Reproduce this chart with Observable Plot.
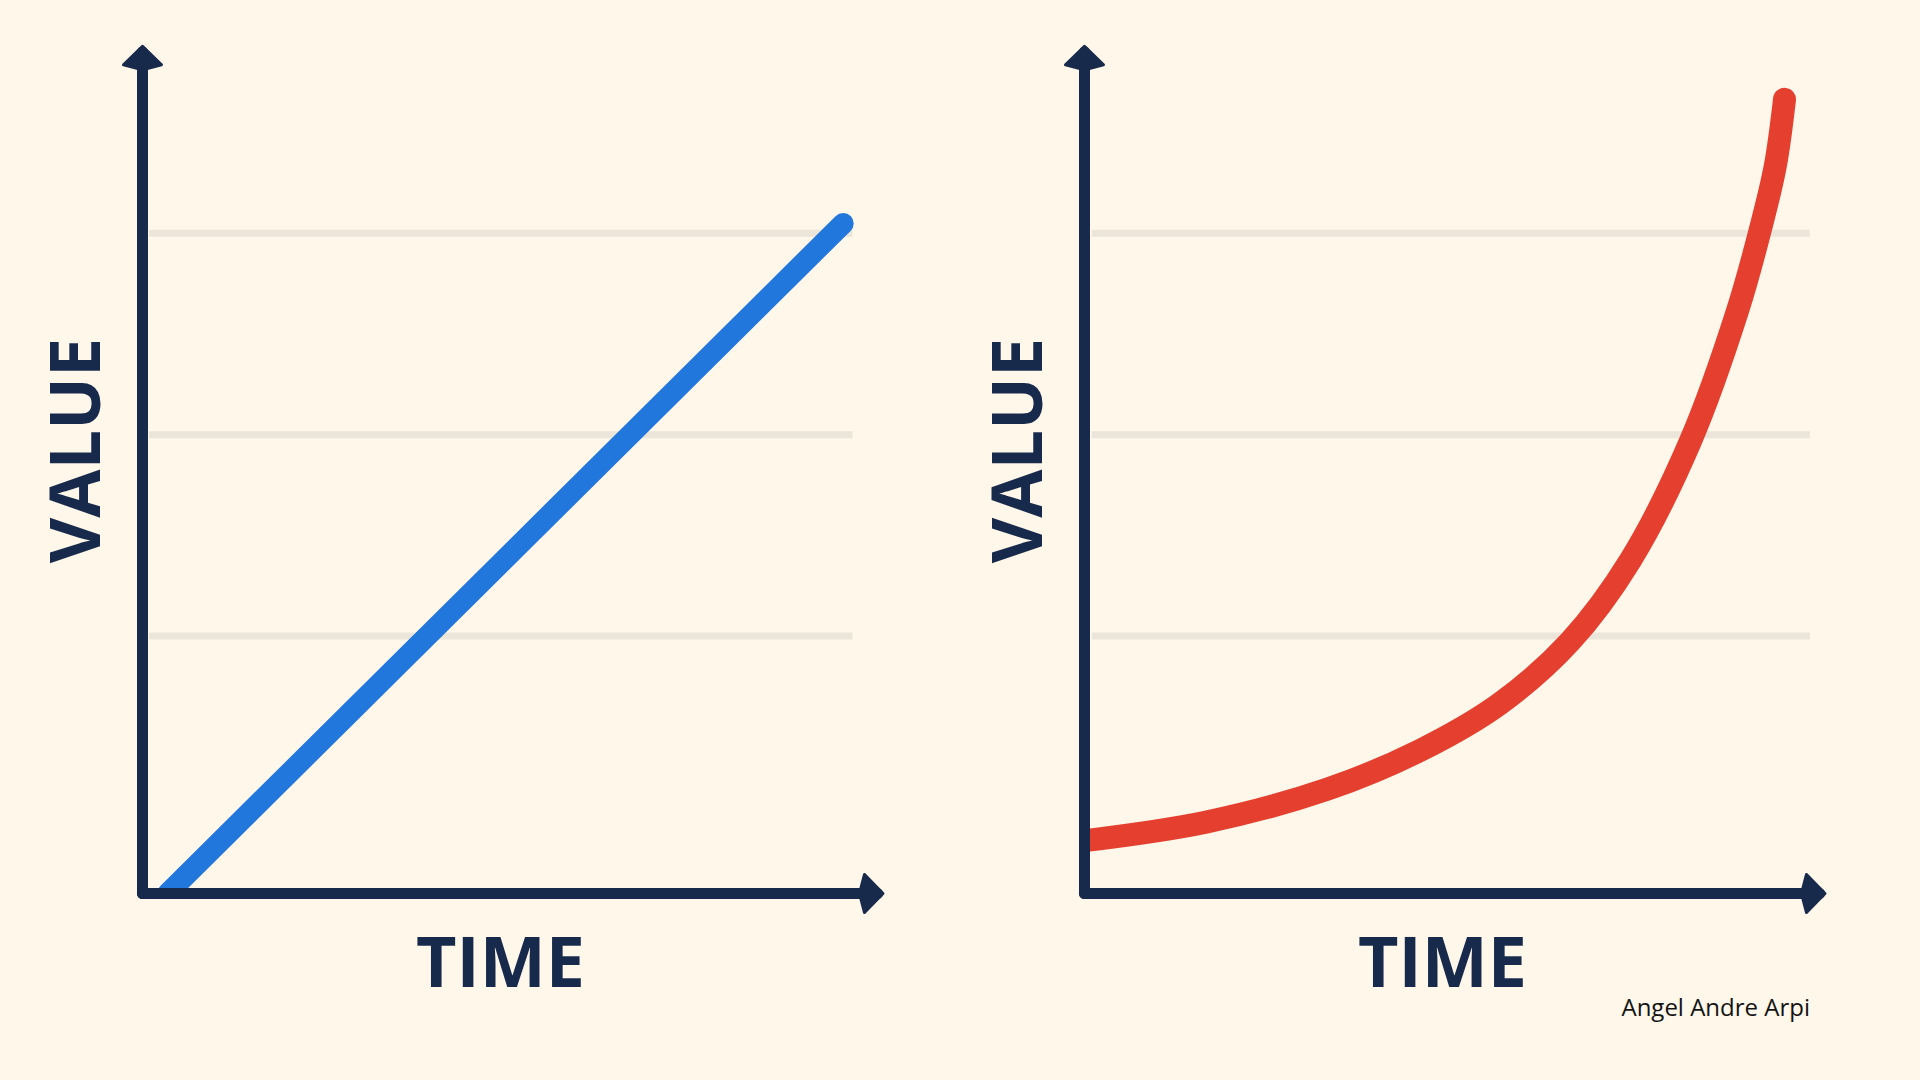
<!DOCTYPE html>
<html>
<head>
<meta charset="utf-8">
<script src="https://cdn.jsdelivr.net/npm/d3@7"></script>
<script src="https://cdn.jsdelivr.net/npm/@observablehq/plot@0.6"></script>
<style>
  html, body { margin: 0; padding: 0; background: #FEF7EA; width: 1920px; height: 1080px; overflow: hidden; }
  #wrap { position: relative; width: 1920px; height: 1080px; }
  .panel { position: absolute; top: 0; }
  #caption { position: absolute; right: 110px; top: 995px; font-family: "Open Sans", sans-serif; font-size: 24px; line-height: 1; color: #141414; white-space: nowrap; }
</style>
</head>
<body>
<div id="wrap">
  <div id="left" class="panel" style="left:0px"></div>
  <div id="right" class="panel" style="left:960px"></div>
  <div id="caption"></div>
</div>
<script>
// ---- data ----
const linearTime  = [3.6, 100.1];
const linearValue = [0, 101.5];

const expTime  = [0, 17.3, 34.7, 48.0, 59.4, 69.4, 78.0, 86.6, 93.3, 96.6, 98.7, 100.0];
const expValue = [8.0, 10.8, 15.8, 21.7, 28.8, 38.2, 50.5, 68.6, 88.3, 100.8, 110.3, 120.3];

const gridValues = [39, 69.5, 100];
const axisEnd = {time: 105, value: 127.5};
const xLabel = "TIME";
const yLabel = "VALUE";
const captionText = "Angel Andre Arpi";

// ---- styles ----
const NAVY = "#182A4B";
const GRID = "#ECE5DA";
const FONT = "'Open Sans', sans-serif";

// solid kite-shaped arrowhead pointing up
const arrowHead = {
  draw(ctx, size) {
    const r = Math.sqrt(size / Math.PI);
    ctx.moveTo(0, -0.55 * r);
    ctx.lineTo(1.9 * r, 1.3 * r);
    ctx.lineTo(0, 1.8 * r);
    ctx.lineTo(-1.9 * r, 1.3 * r);
    ctx.closePath();
  }
};

function panel({times, values, color, lineWidth, marginLeft, marginRight, gridFrom, gridTo}) {
  const data = times.map((t, i) => ({t, v: values[i]}));
  const axisLines = [
    {x1: 0, y1: 0, x2: axisEnd.time, y2: 0},
    {x1: 0, y1: 0, x2: 0, y2: axisEnd.value}
  ];
  const headStyle = {r: 10, symbol: arrowHead, fill: NAVY, stroke: NAVY, strokeWidth: 3, strokeLinejoin: "round"};
  return Plot.plot({
    width: 960,
    height: 1080,
    marginLeft,
    marginRight,
    marginTop: 48,
    marginBottom: 187,
    x: {domain: [0, 106], axis: null},
    y: {domain: [0, 128], axis: null},
    style: {background: "transparent", overflow: "visible"},
    marks: [
      Plot.ruleY(gridValues, {x1: gridFrom, x2: gridTo, stroke: GRID, strokeWidth: 7}),
      Plot.line(data, {x: "t", y: "v", stroke: color, strokeWidth: lineWidth, curve: "catmull-rom", strokeLinecap: "round", strokeLinejoin: "round", clip: true}),
      Plot.link(axisLines, {x1: "x1", y1: "y1", x2: "x2", y2: "y2", stroke: NAVY, strokeWidth: 11, strokeLinecap: "round"}),
      Plot.dot([axisEnd], {x: "time", y: 0, rotate: 90, ...headStyle}),
      Plot.dot([axisEnd], {x: 0, y: "value", rotate: 0, ...headStyle}),
      Plot.text([xLabel], {frameAnchor: "bottom", lineAnchor: "middle", textAnchor: "middle", dx: -13, dy: 71, fontSize: 70, fontWeight: 700, fontFamily: FONT, fill: NAVY}),
      Plot.text([yLabel], {frameAnchor: "left", rotate: -90, lineAnchor: "middle", textAnchor: "middle", dx: -65, dy: -20.5, fontSize: 70, fontWeight: 700, fontFamily: FONT, fill: NAVY})
    ]
  });
}

document.getElementById("left").append(panel({
  times: linearTime, values: linearValue, color: "#2277DC", lineWidth: 21,
  marginLeft: 142, marginRight: 76, gridFrom: 1, gridTo: 101.5
}));
document.getElementById("right").append(panel({
  times: expTime, values: expValue, color: "#E5402F", lineWidth: 23,
  marginLeft: 124, marginRight: 94, gridFrom: 1.1, gridTo: 103.7
}));
document.getElementById("caption").textContent = captionText;
</script>
</body>
</html>
